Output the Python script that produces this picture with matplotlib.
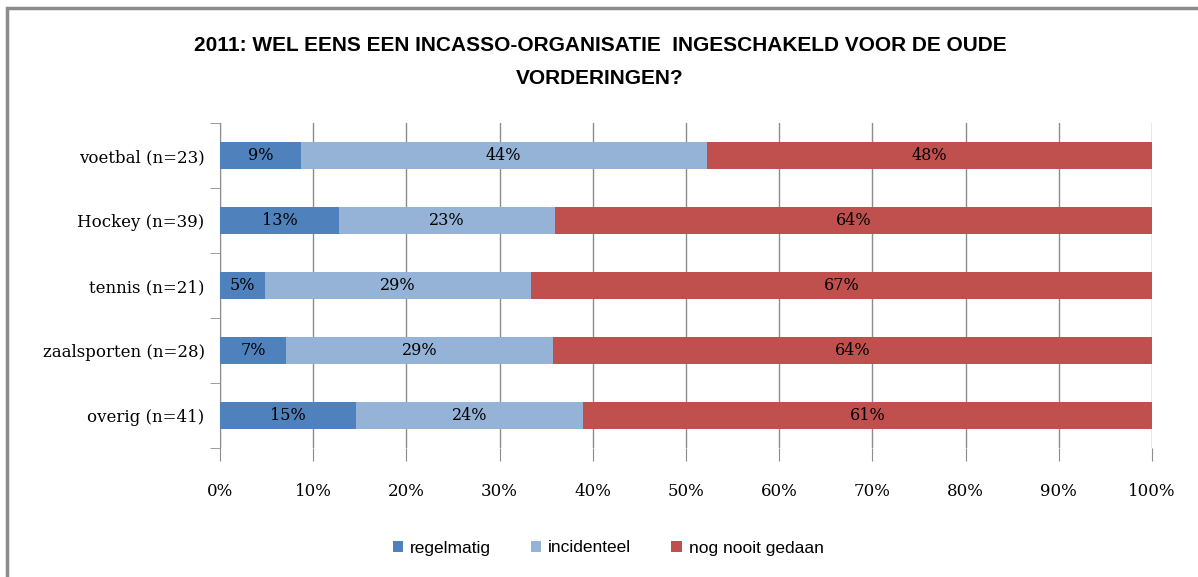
import matplotlib.pyplot as plt
from matplotlib.patches import Rectangle

# Data (percentages per category)
categories = ['voetbal (n=23)', 'Hockey (n=39)', 'tennis (n=21)', 'zaalsporten (n=28)', 'overig (n=41)']
regelmatig = [8.7, 12.8, 4.8, 7.1, 14.6]
incidenteel = [43.5, 23.1, 28.6, 28.6, 24.4]
nog_nooit = [47.8, 64.1, 66.7, 64.3, 61.0]
labels_reg = ['9%', '13%', '5%', '7%', '15%']
labels_inc = ['44%', '23%', '29%', '29%', '24%']
labels_nog = ['48%', '64%', '67%', '64%', '61%']

series = [
    ('regelmatig', regelmatig, labels_reg, '#4F81BD'),
    ('incidenteel', incidenteel, labels_inc, '#95B3D7'),
    ('nog nooit gedaan', nog_nooit, labels_nog, '#C0504D'),
]

serif = ['DejaVu Serif']
sans = ['Liberation Sans', 'DejaVu Sans']

fig = plt.figure(figsize=(11.98, 5.77), dpi=100)
ax = fig.add_axes([220 / 1198, 1 - 448 / 577, 932 / 1198, 325 / 577])

# Outer chart border
fig.patches.append(Rectangle((7 / 1198, -0.05), 1.2, 1 - 8 / 577 + 0.05,
                             transform=fig.transFigure, fill=False,
                             edgecolor='#8c8c8c', linewidth=2.5))

y = list(range(len(categories)))
left = [0] * len(categories)
for name, vals, labs, color in series:
    bars = ax.barh(y, vals, left=left, height=0.42, color=color, label=name, zorder=3)
    for b, lab in zip(bars, labs):
        ax.text(b.get_x() + b.get_width() / 2, b.get_y() + b.get_height() / 2, lab,
                ha='center', va='center', fontsize=11.5, family=serif, color='black', zorder=4)
    left = [l + v for l, v in zip(left, vals)]

ax.set_xlim(0, 100)
ax.set_ylim(len(categories) - 0.5, -0.5)
ax.set_xticks(range(0, 101, 10))
ax.set_xticklabels([f'{t}%' for t in range(0, 101, 10)], family=serif, fontsize=12)
ax.set_yticks(y)
ax.set_yticklabels(categories, family=serif, fontsize=12)
ax.set_yticks([i - 0.5 for i in range(len(categories) + 1)], minor=True)

ax.grid(axis='x', color='#8c8c8c', linewidth=1, zorder=0)
for s in ['top', 'right', 'bottom']:
    ax.spines[s].set_visible(False)
ax.spines['left'].set_color('#8c8c8c')
ax.tick_params(axis='y', which='major', length=0, pad=11)
ax.tick_params(axis='y', which='minor', length=7, color='#8c8c8c')
ax.tick_params(axis='x', length=9, color='#8c8c8c', pad=16)

fig.text(600 / 1198, 1 - 62 / 577,
         '2011: WEL EENS EEN INCASSO-ORGANISATIE  INGESCHAKELD VOOR DE OUDE\nVORDERINGEN?',
         ha='center', va='center', fontsize=15, fontweight='bold', family=sans,
         linespacing=1.9)

fig.legend(loc='center', bbox_to_anchor=(608 / 1198, 1 - 548 / 577), ncol=3,
           frameon=False, prop={'family': sans, 'size': 12.5},
           handlelength=0.6, handleheight=0.6, handletextpad=0.4, columnspacing=2.3)

fig.savefig('out.png', dpi=100)
